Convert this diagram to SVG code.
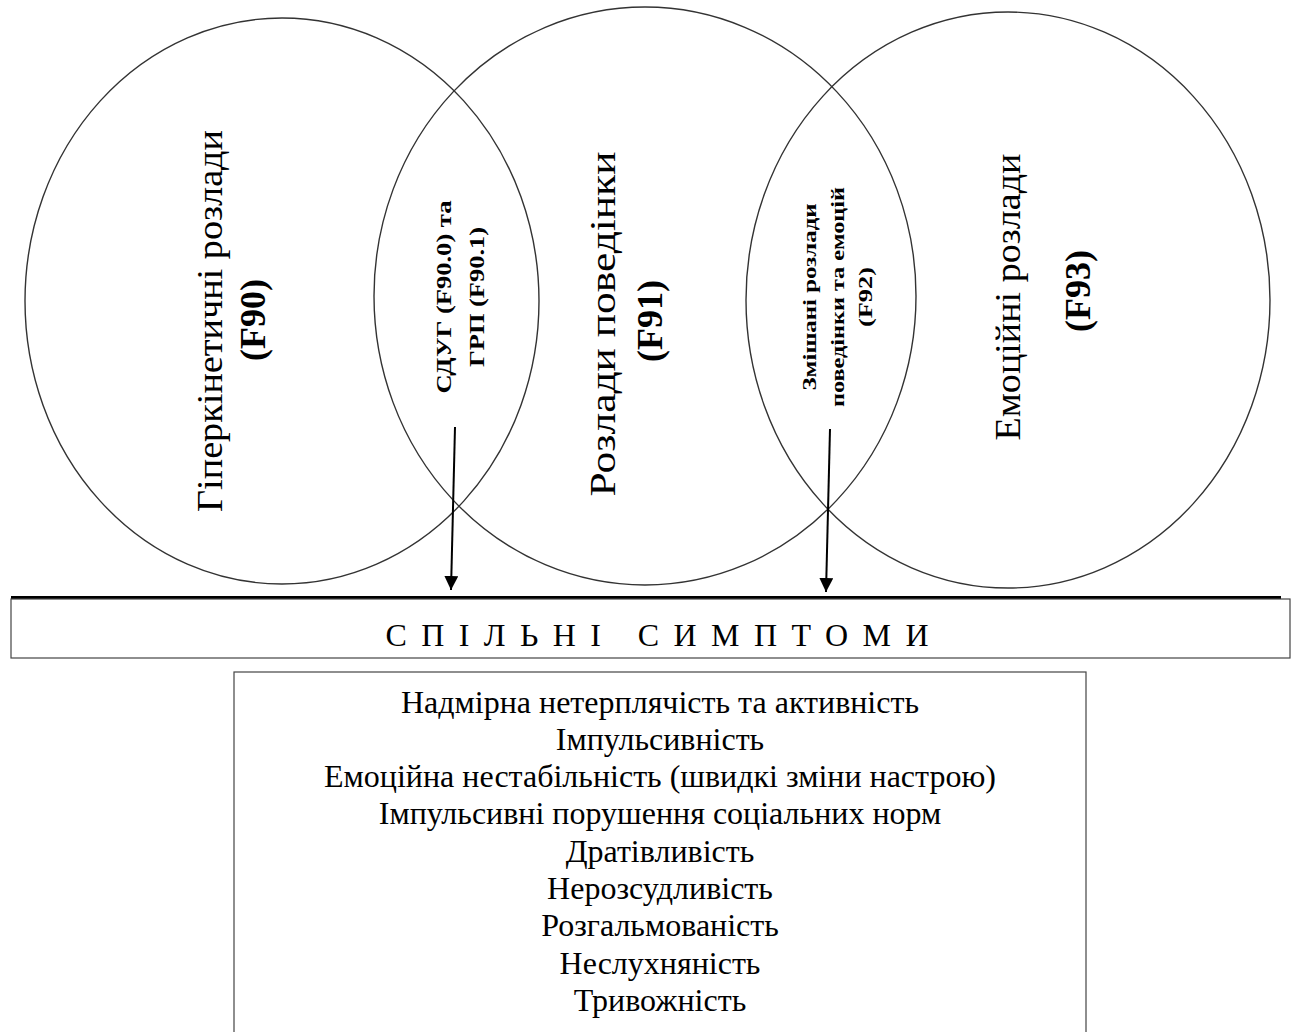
<svg xmlns="http://www.w3.org/2000/svg" width="1294" height="1032" viewBox="0 0 1294 1032">
<defs>
<style>
.c{fill:none;stroke:#333;stroke-width:1.4}
.big{font-family:"Liberation Serif",serif;font-size:36px;fill:#000;text-anchor:middle}
.bigb{font-family:"Liberation Serif",serif;font-size:36px;font-weight:bold;fill:#000;text-anchor:middle}
.mid{font-family:"Liberation Serif",serif;font-size:20px;font-weight:bold;fill:#000;text-anchor:middle}
.sm{font-family:"Liberation Serif",serif;font-size:18px;font-weight:bold;fill:#000;text-anchor:middle}
.sym{font-family:"Liberation Serif",serif;font-size:32px;fill:#000;text-anchor:middle}
.hdr{font-family:"Liberation Serif",serif;font-size:32px;fill:#000;text-anchor:middle}
</style>
<marker id="ah" viewBox="0 0 10 10" refX="10" refY="5" markerWidth="14" markerHeight="14" markerUnits="userSpaceOnUse" orient="auto">
<path d="M0,0 L10,5 L0,10 z" fill="#000"/>
</marker>
</defs>
<rect width="1294" height="1032" fill="#fff"/>
<g id="circle-f90">
<ellipse class="c" cx="282" cy="301" rx="257" ry="283"/>
<text class="big" transform="translate(222,321) rotate(-90)" textLength="382" lengthAdjust="spacingAndGlyphs">Гіперкінетичні розлади</text>
<text class="bigb" transform="translate(265,320) rotate(-90)">(F90)</text>
</g>
<g id="circle-f91">
<ellipse class="c" cx="645" cy="296" rx="271" ry="289"/>
<text class="big" transform="translate(615,324) rotate(-90)" textLength="345" lengthAdjust="spacingAndGlyphs">Розлади поведінки</text>
<text class="bigb" transform="translate(662,321) rotate(-90)">(F91)</text>
</g>
<g id="circle-f93">
<ellipse class="c" cx="1008" cy="300" rx="262" ry="288"/>
<text class="big" transform="translate(1020,297) rotate(-90)" textLength="287" lengthAdjust="spacingAndGlyphs">Емоційні розлади</text>
<text class="bigb" transform="translate(1090,291) rotate(-90)">(F93)</text>
</g>
<g id="overlap-f90-f91">
<text class="mid" transform="translate(451,297) rotate(-90)" textLength="193" lengthAdjust="spacingAndGlyphs">СДУГ (F90.0) та</text>
<text class="mid" transform="translate(484,297) rotate(-90)" textLength="140" lengthAdjust="spacingAndGlyphs">ГРП (F90.1)</text>
</g>
<g id="overlap-f91-f93">
<text class="sm" transform="translate(816,297) rotate(-90)" textLength="187" lengthAdjust="spacingAndGlyphs">Змішані розлади</text>
<text class="sm" transform="translate(844,297) rotate(-90)" textLength="220" lengthAdjust="spacingAndGlyphs">поведінки та емоцій</text>
<text class="sm" transform="translate(872,297) rotate(-90)" textLength="60" lengthAdjust="spacingAndGlyphs">(F92)</text>
</g>
<g id="connectors" stroke="#000" stroke-width="2" fill="none">
<line x1="455" y1="427" x2="451" y2="590" marker-end="url(#ah)"/>
<line x1="830" y1="429" x2="826" y2="592" marker-end="url(#ah)"/>
</g>
<g id="common-symptoms">
<line x1="11" y1="597.5" x2="1281" y2="597.5" stroke="#000" stroke-width="3"/>
<rect x="11" y="599" width="1279" height="59" fill="none" stroke="#444" stroke-width="1.2"/>
<text class="hdr" x="657" y="646" textLength="543" lengthAdjust="spacing">СПІЛЬНІ  СИМПТОМИ</text>
</g>
<g id="symptoms-list">
<rect x="234" y="672" width="852" height="380" fill="none" stroke="#444" stroke-width="1.2"/>
<text class="sym" x="660" y="713">Надмірна нетерплячість та активність</text>
<text class="sym" x="660" y="750">Імпульсивність</text>
<text class="sym" x="660" y="787">Емоційна нестабільність (швидкі зміни настрою)</text>
<text class="sym" x="660" y="824">Імпульсивні порушення соціальних норм</text>
<text class="sym" x="660" y="862">Дратівливість</text>
<text class="sym" x="660" y="899">Нерозсудливість</text>
<text class="sym" x="660" y="936">Розгальмованість</text>
<text class="sym" x="660" y="974">Неслухняність</text>
<text class="sym" x="660" y="1011">Тривожність</text>
</g>
</svg>
